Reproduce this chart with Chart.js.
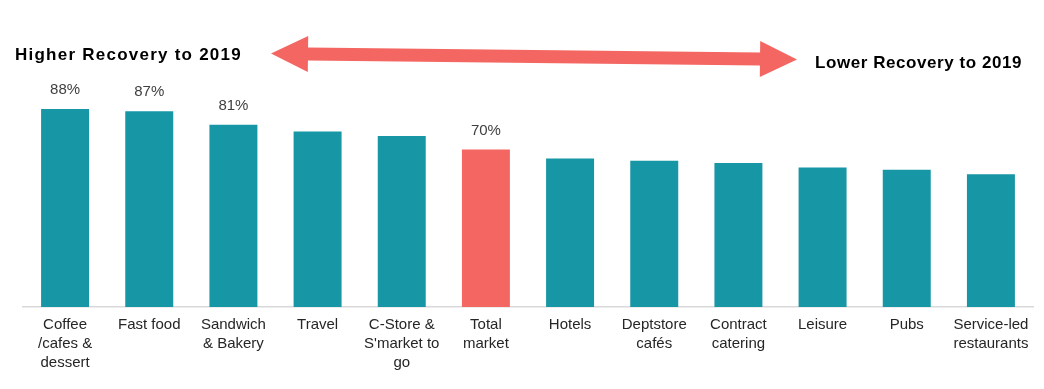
<!DOCTYPE html>
<html>
<head>
<meta charset="utf-8">
<script src="https://cdn.jsdelivr.net/npm/chart.js@4.4.0/dist/chart.umd.min.js"></script>
<style>
  html, body { margin: 0; padding: 0; background: #fff; }
  #wrap { width: 1044px; height: 389px; position: relative; }
</style>
</head>
<body>
<div id="wrap"><canvas id="c" width="1044" height="389"></canvas></div>
<script>
const categories = [
  ["Coffee", "/cafes &", "dessert"],
  ["Fast food"],
  ["Sandwich", "& Bakery"],
  ["Travel"],
  ["C-Store &", "S'market to", "go"],
  ["Total", "market"],
  ["Hotels"],
  ["Deptstore", "cafés"],
  ["Contract", "catering"],
  ["Leisure"],
  ["Pubs"],
  ["Service-led", "restaurants"]
];
const recovery = [88, 87, 81, 78, 76, 70, 66, 65, 64, 62, 61, 59];
const shownLabels = [true, true, true, false, false, true, false, false, false, false, false, false];
const highlightIndex = 5;
const leftNote = "Higher Recovery to 2019";
const rightNote = "Lower Recovery to 2019";

const TEAL = "#1796A5";
const CORAL = "#F46661";

const barColors = recovery.map((v, i) => i === highlightIndex ? CORAL : TEAL);

const valueLabels = {
  id: "valueLabels",
  afterDatasetsDraw(chart) {
    const ctx = chart.ctx;
    const meta = chart.getDatasetMeta(0);
    ctx.save();
    ctx.font = "15px 'Liberation Sans', Arial, sans-serif";
    ctx.fillStyle = "#404040";
    ctx.textAlign = "center";
    ctx.textBaseline = "middle";
    meta.data.forEach((bar, i) => {
      if (!shownLabels[i]) return;
      ctx.fillText(recovery[i] + "%", bar.x, bar.y - 19);
    });
    ctx.restore();
  }
};

function fitText(ctx, text, x, y, targetW) {
  ctx.letterSpacing = "0px";
  const w = ctx.measureText(text).width;
  const ls = (targetW - w) / text.length;
  ctx.letterSpacing = ls.toFixed(2) + "px";
  ctx.fillText(text, x, y);
  ctx.letterSpacing = "0px";
}

const arrowNotes = {
  id: "arrowNotes",
  afterDraw(chart) {
    const ctx = chart.ctx;
    ctx.save();
    ctx.font = "bold 17px 'Liberation Sans', Arial, sans-serif";
    ctx.fillStyle = "#000";
    ctx.textBaseline = "alphabetic";
    ctx.textAlign = "left";
    fitText(ctx, leftNote, 15, 59.5, 227);
    fitText(ctx, rightNote, 815, 67.5, 207);
    const x1 = 271, y1 = 53.5, x2 = 797, y2 = 59.5;
    const dx = x2 - x1, dy = y2 - y1;
    const len = Math.hypot(dx, dy);
    const ux = dx / len, uy = dy / len;
    const nx = -uy, ny = ux;
    const headL = 37, headW = 18, shaftW = 6.5;
    const p = (t, s) => [x1 + ux * t + nx * s, y1 + uy * t + ny * s];
    const pts = [
      p(0, 0),
      p(headL, -headW),
      p(headL, -shaftW),
      p(len - headL, -shaftW),
      p(len - headL, -headW),
      p(len, 0),
      p(len - headL, headW),
      p(len - headL, shaftW),
      p(headL, shaftW),
      p(headL, headW)
    ];
    ctx.beginPath();
    ctx.moveTo(pts[0][0], pts[0][1]);
    for (let i = 1; i < pts.length; i++) ctx.lineTo(pts[i][0], pts[i][1]);
    ctx.closePath();
    ctx.fillStyle = CORAL;
    ctx.fill();
    ctx.restore();
  }
};

new Chart(document.getElementById("c"), {
  type: "bar",
  data: {
    labels: categories,
    datasets: [{
      data: recovery,
      backgroundColor: barColors,
      borderWidth: 0,
      barPercentage: 0.57,
      categoryPercentage: 1.0
    }]
  },
  options: {
    responsive: false,
    animation: false,
    events: [],
    layout: { padding: { left: 23, right: 11, top: 82, bottom: 0 } },
    plugins: { legend: { display: false }, tooltip: { enabled: false } },
    scales: {
      y: { display: false, min: 0, max: 100 },
      x: {
        grid: { display: false, drawTicks: false },
        border: { display: true, color: "#D9D9D9", width: 1.5 },
        ticks: {
          color: "#262626",
          font: { family: "'Liberation Sans', Arial, sans-serif", size: 15, lineHeight: 1.27 },
          padding: 8,
          maxRotation: 0,
          autoSkip: false
        },
        afterFit(scale) { scale.height = 82; }
      }
    }
  },
  plugins: [valueLabels, arrowNotes]
});
</script>
</body>
</html>
